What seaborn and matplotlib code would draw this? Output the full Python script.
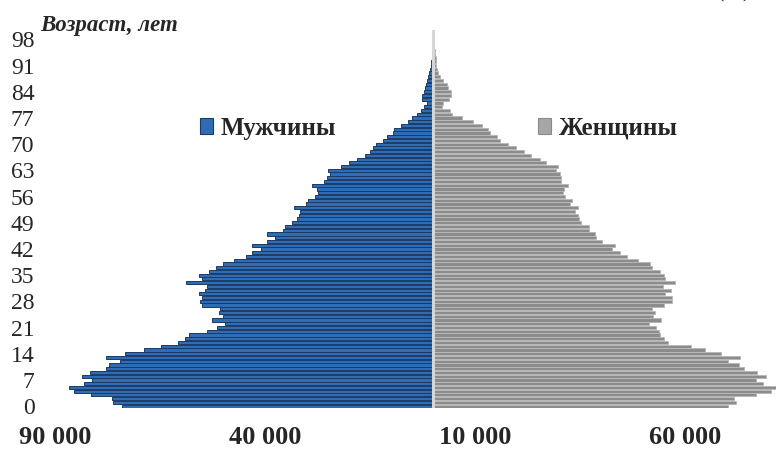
import numpy as np
import pandas as pd
import seaborn as sns
import matplotlib.pyplot as plt
from matplotlib.patches import Patch

# Age 0..100, population by single year of age
ages = list(range(101))
males = [74000, 76200, 76400, 81400, 85400, 86600, 83100, 81200, 83500, 81600,
         77800, 77100, 74500, 77800, 73300, 68800, 64700, 60700, 59000, 58100,
         53800, 51400, 49500, 52600, 50000, 50900, 50700, 55000, 55500, 55000,
         55700, 54300, 53800, 58800, 55000, 55700, 53300, 51600, 50000, 47400,
         44500, 43100, 40900, 43100, 39500, 37600, 39500, 35700, 35200, 33600,
         32400, 31900, 31700, 33100, 30200, 29800, 28100, 27400, 27600, 28800,
         25900, 25200, 24500, 25000, 21900, 20000, 18100, 16200, 15000, 14300,
         13600, 11900, 10900, 9500, 9300, 7600, 6000, 5000, 3800, 2900,
         2100, 1400, 2600, 2600, 2100, 1900, 1700, 1400, 1200, 950,
         700, 500, 400, 300, 250, 200, 150, 100, 80, 60, 40]
females = [70200, 72100, 71600, 76900, 80400, 81600, 78500, 76900, 79300, 77100,
           74000, 72800, 70200, 73100, 68500, 64700, 61400, 55900, 55000, 54000,
           53800, 53100, 51400, 54300, 52400, 52800, 52100, 55000, 56900, 56900,
           55200, 56600, 54700, 57600, 55200, 55000, 54000, 52100, 51600, 48800,
           46200, 44500, 42600, 43300, 40200, 38800, 38600, 37100, 37100, 35200,
           34700, 34500, 33800, 34500, 32600, 33100, 31400, 30900, 31200, 32100,
           30500, 30500, 30200, 29300, 29800, 26900, 25500, 23300, 21700, 19800,
           17900, 15900, 15200, 13600, 13100, 11700, 9500, 6900, 4500, 4000,
           2100, 2400, 3800, 4300, 4300, 3600, 3300, 2400, 1700, 1200,
           950, 800, 700, 600, 500, 400, 300, 250, 200, 150, 120]

age_ticks = list(range(0, 99, 7))
x_ticks = [-90000, -40000, 10000, 60000]
labels = ['Мужчины', 'Женщины']

df = pd.DataFrame({'age': ages, 'male': [-v for v in males], 'female': females})

sns.set_theme(style='white')
plt.rcParams['font.family'] = ['Liberation Serif', 'DejaVu Serif']

male_fill, male_edge = '#2e6db4', '#1c3a66'
fem_fill, fem_edge = '#8c8c8c', '#b8b8b8'

fig = plt.figure(figsize=(7.76, 4.5), dpi=100)
ax = fig.add_axes([40 / 776, 42 / 450, 736 / 776, 378 / 450])

sns.barplot(data=df, x='male', y='age', orient='h', native_scale=True, ax=ax,
            color=male_fill, edgecolor=male_edge, linewidth=0.7,
            saturation=1, errorbar=None, width=0.85)
sns.barplot(data=df, x='female', y='age', orient='h', native_scale=True, ax=ax,
            color=fem_fill, edgecolor=fem_edge, linewidth=0.7,
            saturation=1, errorbar=None, width=0.85)

ax.axvline(0, color='#d6d6d6', lw=2.2, zorder=5)

ax.set_xlim(-(433 - 40) * 238, (776 - 433) * 238)
ax.set_ylim(-0.5, 100.5)
ax.set_yticks(age_ticks)
ax.set_yticklabels([str(a) for a in age_ticks], fontsize=17)
ax.set_xticks(x_ticks)
ax.set_xticklabels([f'{abs(v):,}'.replace(',', ' ') for v in x_ticks],
                   fontsize=19, fontweight='bold')
ax.tick_params(axis='x', length=0, pad=13)
ax.tick_params(axis='y', length=0, pad=4)
ax.set_xlabel('')
ax.set_ylabel('')
ax.grid(False)
sns.despine(ax=ax, left=True, bottom=True)

fig.text(40 / 776, 1 - 25 / 450, 'Возраст, лет', fontsize=16.5,
         fontweight='bold', fontstyle='italic', va='center', ha='left')
# only the lower edge of this header shows in the reference
fig.text(734 / 776, 1 + 3 / 450, '(%)', fontsize=16, ha='center', va='baseline')

handles = [Patch(facecolor=male_fill, edgecolor=male_edge, lw=0.8),
           Patch(facecolor='#a6a6a6', edgecolor='#8a8a8a', lw=0.8)]
fig.legend(handles, labels, loc='center left', ncol=2, frameon=False,
           bbox_to_anchor=(177 / 776, 1 - 128 / 450),
           prop={'size': 18, 'weight': 'bold'}, handlelength=0.55,
           handleheight=0.6, handletextpad=0.3, columnspacing=8.05)

fig.savefig('out.png', dpi=100)
